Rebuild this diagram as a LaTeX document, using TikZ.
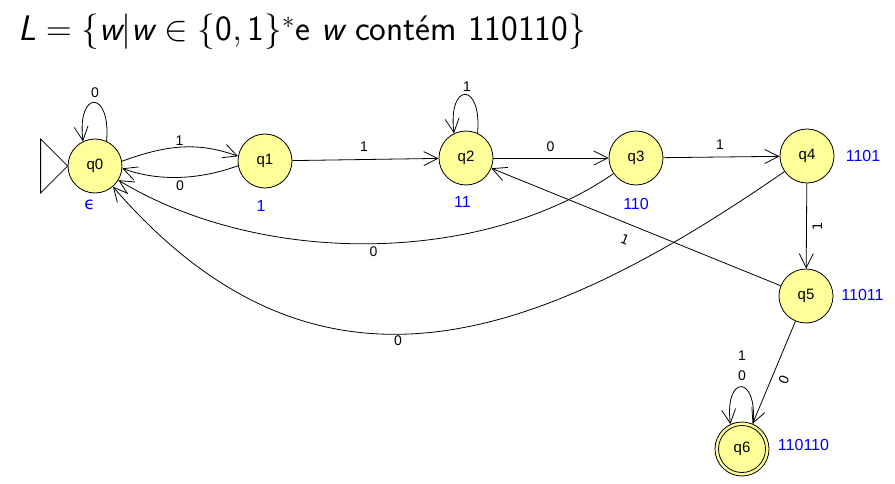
\documentclass[tikz,border=0pt]{standalone}
\usepackage{graphicx}
\usepackage{fontspec}
\newfontfamily\dia{Liberation Sans}
\newfontfamily\diarot{DejaVu Sans}
\usetikzlibrary{arrows.meta}
\definecolor{stfill}{RGB}{255,255,153}
\definecolor{lblue}{RGB}{0,0,255}
\tikzset{
  st/.style={circle, draw, fill=stfill, line width=0.8pt, minimum size=54pt, inner sep=0pt, font=\dia\fontsize{15}{15}\selectfont},
  arr/.style={-{Straight Barb[length=14pt,width=14pt]}, line width=0.8pt},
  elab/.style={font=\dia\fontsize{14}{14}\selectfont, inner sep=0pt},
  rlab/.style={font=\diarot\fontsize{13}{13}\selectfont, inner sep=0pt},
  blab/.style={font=\dia\fontsize{16}{16}\selectfont, text=lblue, inner sep=0pt}
}
\begin{document}
\begin{tikzpicture}[x=1pt,y=-1pt]
\useasboundingbox (0,0) rectangle (895,484);
% title
\node[anchor=base west, inner sep=0pt] (title) at (18,41)
  {\scalebox{1.71}{\fontsize{20.74}{25}\selectfont\sffamily $\textsl{L}=\{\textsl{w}|\textsl{w}\in\{\textup{0},\textup{1}\}^*\textup{e }\textsl{w}\textup{ contém 110110}\}$}};
% states
\node[st] (q0) at (95,166) {q0};
\node[st] (q1) at (265,161) {q1};
\node[st] (q2) at (466,158) {q2};
\node[st] (q3) at (636,158) {q3};
\node[st] (q4) at (807,156) {q4};
\node[st] (q5) at (806,296) {q5};
\node[st] (q6) at (742,449) {q6};
\draw[line width=0.8pt] (q6.center) circle (23.5pt);
% initial marker
\draw[line width=0.8pt, fill=white] (q0.west) -- ++(-27pt,27pt) -- ++(0pt,-54pt) -- cycle;
% state labels
\node[blab, font=\diarot\fontsize{17}{17}\selectfont] (lq0) at (89.5,205) {ϵ};
\node[blab] (lq1) at (261,205.5) {1};
\node[blab] (lq2) at (462.5,202) {11};
\node[blab] (lq3) at (636,204) {110};
\node[blab] (lq4) at (863,155.5) {1101};
\node[blab] (lq5) at (862.5,294.5) {11011};
\node[blab] (lq6) at (803.5,445) {110110};
% loops
\draw[arr] (q0.65) .. controls +(85:52pt) and +(97:52pt) .. (q0.116);
\draw[arr] (q2.65) .. controls +(85:52pt) and +(97:52pt) .. (q2.116);
\draw[arr] (q6.66) .. controls +(85:50pt) and +(97:50pt) .. (q6.115);
% transitions
\draw[arr] (q0.10) .. controls +(20:45pt) and +(160:45pt) .. (q1.170);
\draw[arr] (q1.190) .. controls +(200:40pt) and +(-20:40pt) .. (q0.-5);
\draw[arr] (q1) -- (q2);
\draw[arr] (q2) -- (q3);
\draw[arr] (q3) -- (q4);
\draw[arr] (q4) -- (q5);
\draw[arr] (q5) -- (q2);
\draw[arr] (q5) -- (q6);
\draw[arr] (q3) .. controls (480,266) and (260,266) .. (q0);
\draw[arr] (q4) .. controls (531,347) and (315,420) .. (q0);
% transition labels
\node[elab] (t00) at (95,93) {0};
\node[elab] (t01) at (179.5,140.5) {1};
\node[elab] (t10) at (180,185.5) {0};
\node[elab] (t12) at (364,147) {1};
\node[elab] (t22) at (467,86.5) {1};
\node[elab] (t23) at (550.5,146.5) {0};
\node[elab] (t34) at (720,144.5) {1};
\node[rlab, rotate=90] (t45) at (817.5,226.5) {1};
\node[rlab, rotate=-22] (t52) at (625,240) {1};
\node[rlab, rotate=67] (t56) at (784,380) {0};
\node[elab] (t30) at (373.5,252) {0};
\node[elab] (t40) at (398,341) {0};
\node[elab] (t66a) at (742,356) {1};
\node[elab] (t66b) at (742,376) {0};
\end{tikzpicture}
\end{document}
